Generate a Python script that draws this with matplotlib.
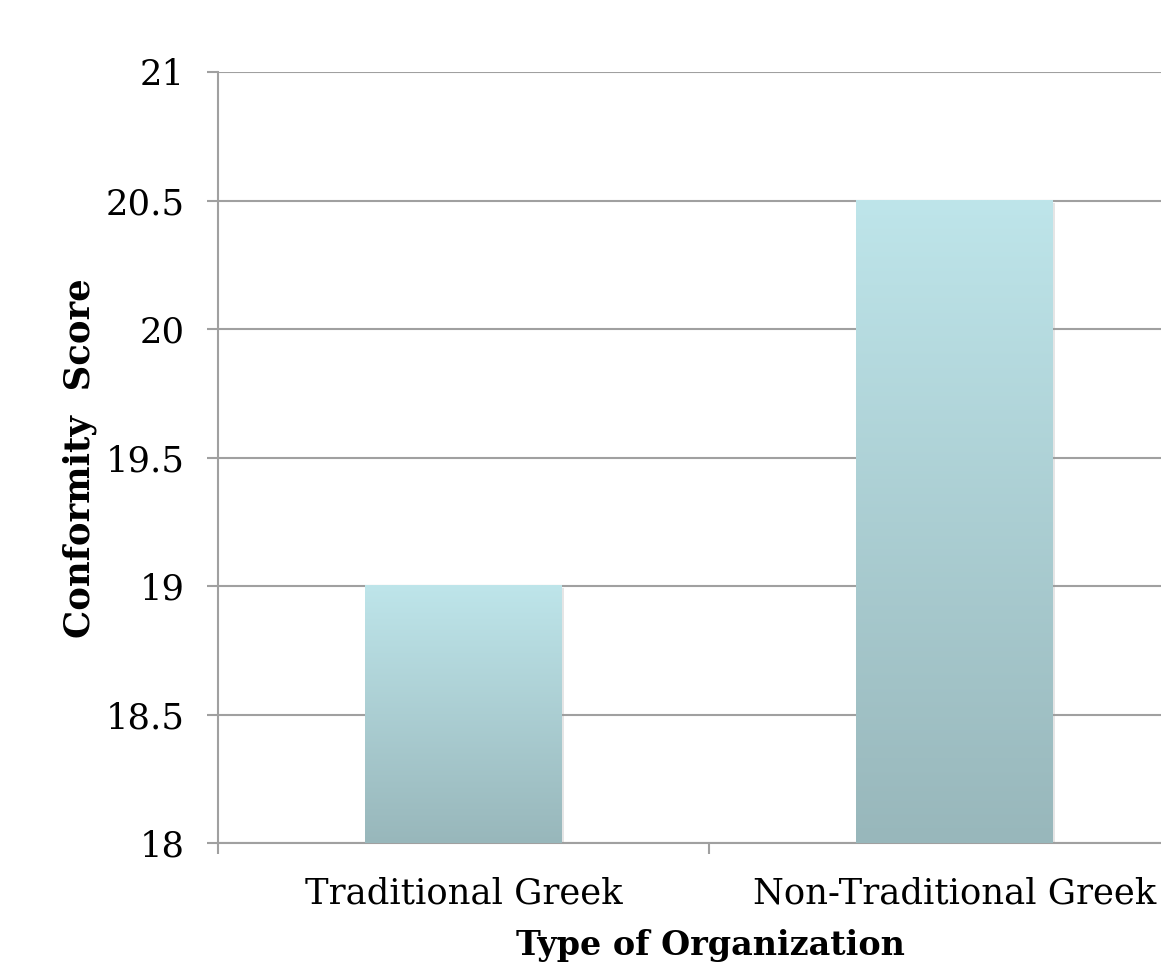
import numpy as np
import matplotlib
matplotlib.use('Agg')
import matplotlib.pyplot as plt
import matplotlib.patheffects as pe
from matplotlib.colors import LinearSegmentedColormap

# Mean conformity score per organization type
categories = ['Traditional Greek', 'Non-Traditional Greek']
scores = [19.0, 20.5]
y_ticks = [18, 18.5, 19, 19.5, 20, 20.5, 21]
y_tick_labels = ['18', '18.5', '19', '19.5', '20', '20.5', '21']

plt.rcParams['font.family'] = ['DejaVu Serif']

grid_color = '#a0a0a0'
top_color = '#bee5ea'
bottom_color = '#98b7bb'
grad_cmap = LinearSegmentedColormap.from_list('bar_grad', [bottom_color, top_color])

fig = plt.figure(figsize=(11.61, 9.69), dpi=100)
ax = fig.add_axes([0.1878, 0.1300, 0.8458, 0.7957])

y_min, y_max = 18, 21
x_pos = np.arange(len(categories)) + 0.5
bar_width = 0.4

# base bars carry a soft drop shadow; gradient image is painted over them
bars = ax.bar(x_pos, [s - y_min for s in scores], bottom=y_min, width=bar_width,
              color=bottom_color, zorder=3,
              path_effects=[pe.SimplePatchShadow(offset=(1.5, -1.5), shadow_rgbFace='#999999', alpha=0.25),
                            pe.Normal()])
grad = np.linspace(0, 1, 256).reshape(-1, 1)
for b in bars:
    x0 = b.get_x()
    ax.imshow(grad, cmap=grad_cmap, origin='lower', aspect='auto', zorder=4,
              extent=(x0, x0 + b.get_width(), y_min, b.get_y() + b.get_height()),
              vmin=0, vmax=1)

ax.set_xlim(0, len(categories))
ax.set_ylim(y_min, y_max)

ax.set_yticks(y_ticks)
ax.set_yticklabels(y_tick_labels)
ax.yaxis.grid(True, color=grid_color, linewidth=1.5, zorder=1)
ax.set_axisbelow(True)

# category boundaries get ticks, labels sit at the centres
ax.set_xticks(np.arange(len(categories) + 1))
ax.set_xticklabels([])
ax.set_xticks(x_pos, minor=True)
ax.set_xticklabels(categories, minor=True)
ax.tick_params(axis='x', which='minor', length=0, pad=24, labelsize=25.5)
ax.tick_params(axis='x', which='major', length=8, width=1.5, color=grid_color)
ax.tick_params(axis='y', length=8, width=1.5, color=grid_color, pad=16, labelsize=25.5)

for side in ['top', 'right']:
    ax.spines[side].set_visible(False)
for side in ['left', 'bottom']:
    ax.spines[side].set_color(grid_color)
    ax.spines[side].set_linewidth(1.5)

fig.text(80 / 1161, 1 - 458 / 969, 'Conformity  Score', rotation=90, ha='center', va='center',
         fontsize=25.5, fontweight='bold')
fig.text(710 / 1161, 1 - 946 / 969, 'Type of Organization', ha='center', va='center',
         fontsize=24, fontweight='bold')

fig.savefig('out.png', dpi=100)
